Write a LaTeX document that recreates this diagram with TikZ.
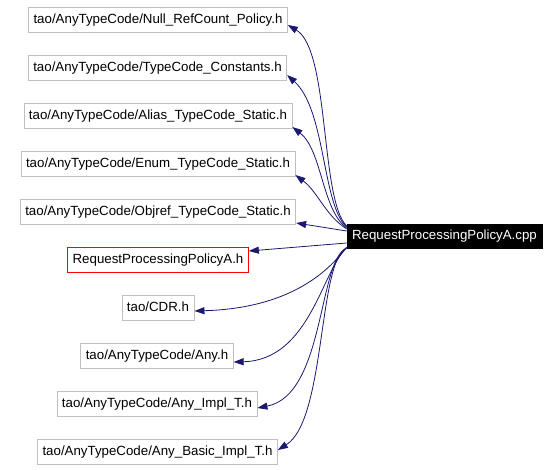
\documentclass[tikz,border=0pt]{standalone}
\usepackage{fontspec}
\setmainfont{Liberation Sans}
\usetikzlibrary{arrows.meta,calc}
\definecolor{edgeblue}{HTML}{191970}
\definecolor{boxgray}{HTML}{BFBFBF}
\begin{document}
\begin{tikzpicture}[x=1pt,y=-1pt,
  filebox/.style={draw=boxgray,fill=white,line width=0.8pt,inner xsep=5pt,inner ysep=0pt,
    minimum height=25pt,font=\fontsize{13.3}{15}\selectfont,text height=9.6pt,text depth=2.8pt},
  redbox/.style={filebox,draw=red},
  mainbox/.style={filebox,draw=black,fill=black,text=white,minimum height=24pt},
  dep/.style={draw=edgeblue,line width=0.8pt,-{Triangle[length=10pt,width=7pt,fill=edgeblue]}}]
\useasboundingbox (0,0) rectangle (560,470);
\node[filebox] (n1) at (158,20) {tao/AnyTypeCode/Null\_RefCount\_Policy.h};
\node[filebox] (n2) at (157.5,68) {tao/AnyTypeCode/TypeCode\_Constants.h};
\node[filebox] (n3) at (158,116) {tao/AnyTypeCode/Alias\_TypeCode\_Static.h};
\node[filebox] (n4) at (158,164) {tao/AnyTypeCode/Enum\_TypeCode\_Static.h};
\node[filebox] (n5) at (158,212) {tao/AnyTypeCode/Objref\_TypeCode\_Static.h};
\node[redbox] (n6) at (158,260) {RequestProcessingPolicyA.h};
\node[filebox] (n7) at (158,308) {tao/CDR.h};
\node[filebox] (n8) at (157,356) {tao/AnyTypeCode/Any.h};
\node[filebox] (n9) at (157,404) {tao/AnyTypeCode/Any\_Impl\_T.h};
\node[filebox] (n10) at (157.5,452) {tao/AnyTypeCode/Any\_Basic\_Impl\_T.h};
\node[mainbox] (main) at (444.5,236) {RequestProcessingPolicyA.cpp};

\draw[dep] ($(main.west)+(0,-10)$) .. controls (320,200) and (330,50) .. ($(n1.east)+(0,5)$);
\draw[dep] ($(main.west)+(0,-9)$) .. controls (322,205) and (326,110) .. ($(n2.east)+(0,7)$);
\draw[dep] ($(main.west)+(0,-8)$) .. controls (322,210) and (322,150) .. ($(n3.east)+(0,11)$);
\draw[dep] ($(main.west)+(0,-7)$) .. controls (325,215) and (318,192) .. ($(n4.east)+(0,11)$);
\draw[dep] ($(main.west)+(0,-5)$) -- ($(n5.east)+(0,11)$);
\draw[dep] ($(main.west)+(0,7)$) -- ($(n6.east)+(0,-9)$);
\draw[dep] ($(main.west)+(0,11)$) .. controls (335,262) and (300,308) .. ($(n7.east)+(0,3)$);
\draw[dep] ($(main.west)+(0,12)$) .. controls (322,270) and (310,360) .. ($(n8.east)+(0,6)$);
\draw[dep] ($(main.west)+(0,12)$) .. controls (318,260) and (325,395) .. ($(n9.east)+(0,4)$);
\draw[dep] ($(main.west)+(0,12)$) .. controls (318,260) and (326,420) .. ($(n10.east)+(0,-2)$);
\end{tikzpicture}
\end{document}
